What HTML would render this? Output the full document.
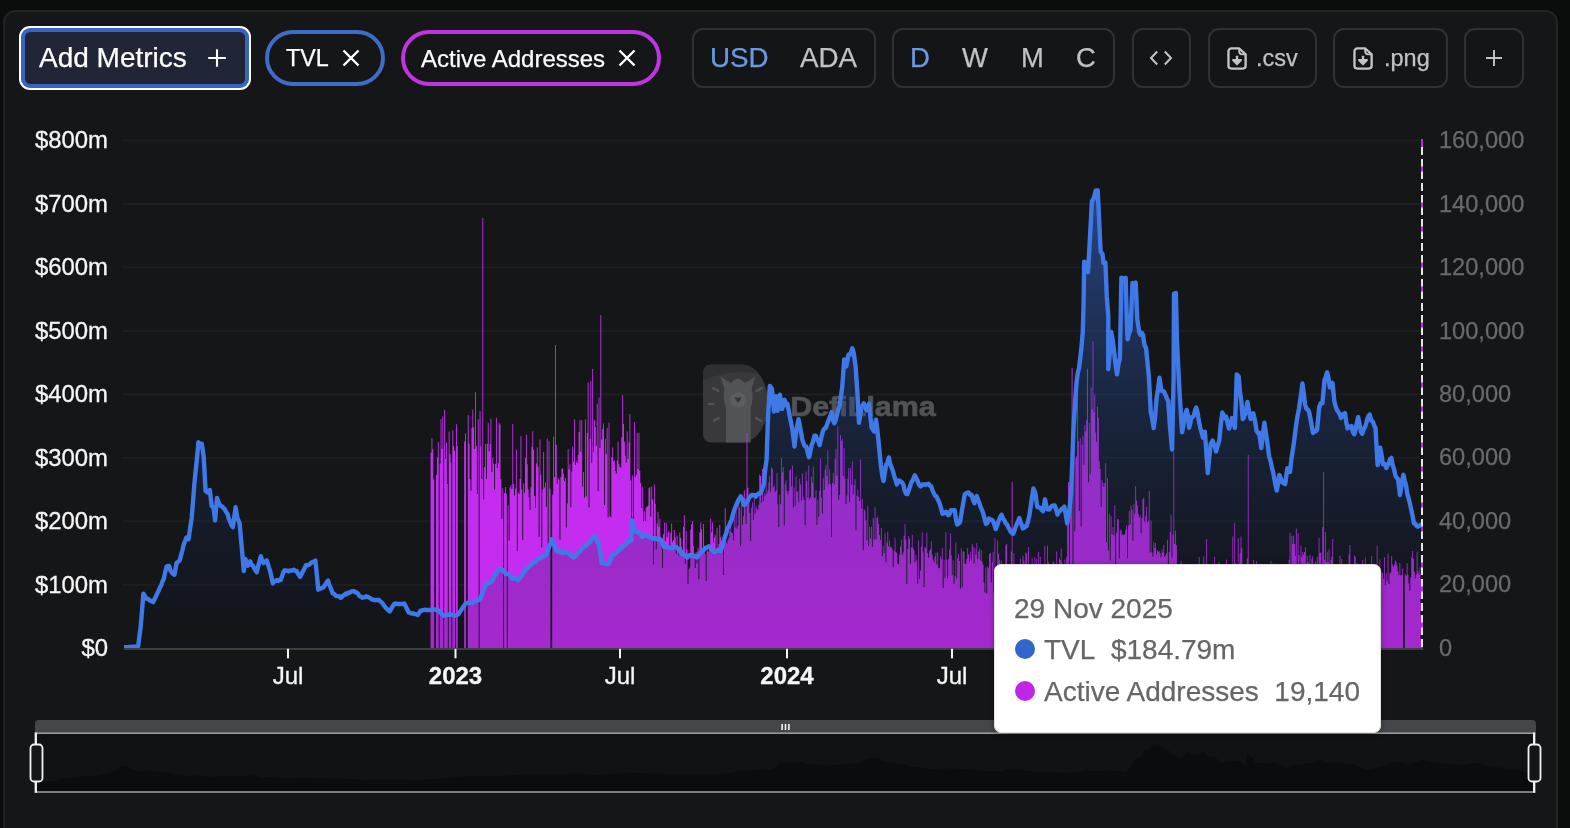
<!DOCTYPE html>
<html><head><meta charset="utf-8"><title>chart</title>
<style>
*{box-sizing:border-box;margin:0;padding:0}
html,body{width:1570px;height:828px;overflow:hidden;background:#0b0c0c;font-family:"Liberation Sans",sans-serif}
.card{position:absolute;left:3.3px;top:10px;width:1554.6px;height:900px;background:#151618;border:2px solid #222325;border-radius:12.5px}
.chart{position:absolute;left:0;top:0;will-change:transform}
.yl{font:23.9px "Liberation Sans",sans-serif;fill:#f6f6f6;stroke:#f6f6f6;stroke-width:.3px}
.yr{font:23.6px "Liberation Sans",sans-serif;fill:#696a6e;stroke:#696a6e;stroke-width:.25px}
.xl{font:24px "Liberation Sans",sans-serif;fill:#f6f6f6;stroke:#f6f6f6;stroke-width:.3px}
.xl.b{font-weight:700}
.abs{position:absolute;white-space:nowrap}
.btn{position:absolute;top:28px;height:59.5px;border:2px solid #303135;border-radius:11px;background:#141517}
.t{position:absolute;white-space:nowrap;line-height:1;color:#c2c2c4;will-change:transform;-webkit-text-stroke:.25px}
.pill{position:absolute;top:29.5px;height:56.5px;border-radius:29px;border:4px solid #3e6dc8}
.tip{position:absolute;left:994px;top:564px;width:386.5px;height:169px;background:#fff;border-radius:7px;box-shadow:0 1px 6px rgba(0,0,0,.35);border:1px solid #e2e2e2}
.tip .t{color:#666}
.dot{position:absolute;width:20px;height:20px;border-radius:50%}
</style></head><body>
<div class="card"></div>
<svg class="chart" width="1570" height="828" viewBox="0 0 1570 828">
<defs><linearGradient id="ga" x1="0" y1="190" x2="0" y2="648" gradientUnits="userSpaceOnUse"><stop offset="0" stop-color="#3b72e6" stop-opacity="0.52"/><stop offset="1" stop-color="#0a1020" stop-opacity="0.16"/></linearGradient>
<clipPath id="cp"><rect x="124" y="120" width="1299" height="529"/></clipPath></defs>
<rect x="122.5" y="139.40" width="1299" height="2" fill="#1d1e21"/>
<rect x="122.5" y="202.89" width="1299" height="2" fill="#1d1e21"/>
<rect x="122.5" y="266.38" width="1299" height="2" fill="#1d1e21"/>
<rect x="122.5" y="329.86" width="1299" height="2" fill="#1d1e21"/>
<rect x="122.5" y="393.35" width="1299" height="2" fill="#1d1e21"/>
<rect x="122.5" y="456.84" width="1299" height="2" fill="#1d1e21"/>
<rect x="122.5" y="520.32" width="1299" height="2" fill="#1d1e21"/>
<rect x="122.5" y="583.81" width="1299" height="2" fill="#1d1e21"/>
<g>
<path d="M711 364.5 H742 A26 39 0 0 1 768 403.5 A26 39 0 0 1 742 442.6 H711 A8 8 0 0 1 703 434.6 V372.5 A8 8 0 0 1 711 364.5Z" fill="#39393b"/>
<path d="M703 380 V372.5 A8 8 0 0 1 711 364.5 H742 Q752 366 758 374 Q735 368 703 380Z" fill="#2f3032"/>
<path d="M720.5 376.5 L730.8 382.9 Q734 379.2 738 378.6 Q742 379.2 745.2 382.9 L755.5 376.5 L751.5 389.2 Q753 393 752.6 396.4 Q752.6 403 750.7 407.5 L750.7 442.6 H726 L726 407.5 Q723.7 403 723.7 396.4 Q723.4 393 724.5 389.2 Z" fill="#525355"/>
<ellipse cx="738.1" cy="399.8" rx="8.2" ry="7.6" fill="#5c5d5f"/>
<path d="M734.4 397.4 l3.7 5.6 l3.7 -5.6z" fill="#343537"/>
<g stroke="#535456" stroke-width="2.2" stroke-linecap="round"><path d="M713 388l5.5 3M709 404h4.5M714 420.5l5-2.6M756.5 391l5.5-3.2M756 418l5.5 3.2"/></g>
<text x="790.3" y="415.8" font-family="Liberation Sans, sans-serif" font-weight="700" font-size="27.2" fill="#525356" stroke="#525356" stroke-width="0.7" textLength="145.5" lengthAdjust="spacingAndGlyphs">DefiLlama</text>
</g>
<g clip-path="url(#cp)"><path d="M430.52 648.3V452.7H431.48V437.9H432.39V449.3H433.30V479.4H434.21V648.3M435.96 648.3V474.9H436.93V457.6H437.84V442.2H438.75V648.3M439.60 648.3V463.4H440.56V418.9H441.47V448.9H442.38V416.5H443.29V648.3M444.14 648.3V409.7H445.10V458.7H446.01V442.4H446.92V484.1H447.83V648.3M448.68 648.3V431.4H449.64V454.0H450.55V462.6H451.46V648.3M452.31 648.3V430.2H453.28V445.9H454.18V450.4H455.09V648.3M455.94 648.3V424.3H456.91V446.1H457.82V648.3M464.11 648.3V441.5H465.08V433.4H465.99V648.3M467.74 648.3V414.9H468.71V443.8H469.62V479.0H470.53V490.8H471.44V427.8H472.34V409.8H473.25V427.5H474.16V449.1H475.07V392.3H475.98V446.1H476.88V494.0H477.79V419.3H478.70V648.3M479.55 648.3V411.3H480.52V446.5H481.42V478.9H482.33V218.0H483.24V499.6H484.15V467.1H485.06V443.8H485.96V478.7H486.87V443.8H487.78V423.0H488.69V451.4H489.60V444.1H490.50V418.4H491.41V471.9H492.32V457.8H493.23V463.7H494.14V489.6H495.04V463.8H495.95V417.8H496.86V467.9H497.77V463.2H498.68V422.7H499.58V424.6H500.49V479.2H501.40V519.1H502.31V488.2H503.22V648.3M504.06 648.3V492.9H505.03V486.9H505.94V493.4H506.85V648.3M507.70 648.3V505.4H508.66V540.5H509.57V487.6H510.48V484.9H511.39V488.9H512.30V424.1H513.20V484.0H514.11V495.4H515.02V488.4H515.93V449.7H516.84V551.2H517.74V491.7H518.65V494.1H519.56V479.1H520.47V435.9H521.38V489.6H522.28V540.0H523.19V483.5H524.10V492.8H525.01V458.1H525.92V434.5H526.82V464.2H527.73V489.2H528.64V497.4H529.55V510.0H530.46V487.2H531.36V446.7H532.27V431.2H533.18V449.7H534.09V496.0H535.00V507.8H535.90V463.5H536.81V447.5H537.72V466.4H538.63V537.1H539.54V439.5H540.44V474.6H541.35V547.4H542.26V489.2H543.17V452.0H544.08V487.5H544.98V482.5H545.89V506.8H546.80V438.5H547.71V547.0H548.62V441.2H549.52V488.6H550.43V648.3M552.19 648.3V494.4H553.16V436.5H554.06V477.0H554.97V345.0H555.88V445.1H556.79V483.8H557.70V477.9H558.60V479.4H559.51V539.7H560.42V476.9H561.33V468.9H562.24V467.9H563.14V473.6H564.05V481.3H564.96V477.9H565.87V527.5H566.78V503.6H567.68V449.1H568.59V469.5H569.50V464.3H570.41V507.2H571.32V471.5H572.22V446.4H573.13V461.8H574.04V419.3H574.95V464.8H575.86V460.8H576.76V462.9H577.67V455.1H578.58V431.9H579.49V419.9H580.40V451.7H581.30V420.2H582.21V486.4H583.12V471.9H584.03V497.8H584.94V419.3H585.84V496.5H586.75V433.1H587.66V382.4H588.57V507.5H589.48V438.7H590.38V381.3H591.29V463.0H592.20V369.0H593.11V451.8H594.02V419.8H594.92V427.0H595.83V445.8H596.74V403.7H597.65V491.0H598.56V397.6H599.46V447.9H600.37V315.0H601.28V439.5H602.19V428.9H603.10V423.6H604.00V505.0H604.91V438.8H605.82V454.3H606.73V427.8H607.64V517.4H608.54V422.7H609.45V516.0H610.36V517.3H611.27V457.0H612.18V447.2H613.08V461.6H613.99V460.2H614.90V471.1H615.81V473.6H616.72V460.5H617.62V441.7H618.53V463.7H619.44V466.9H620.35V467.5H621.26V437.2H622.16V395.0H623.07V423.9H623.98V441.6H624.89V455.8H625.80V462.5H626.70V431.5H627.61V459.1H628.52V442.2H629.43V414.0H630.34V480.6H631.24V519.6H632.15V475.4H633.06V528.3H633.97V422.0H634.88V477.1H635.78V474.7H636.69V433.0H637.60V468.9H638.51V432.7H639.42V471.1H640.32V483.1H641.23V508.1H642.14V487.1H643.05V521.2H643.96V510.9H644.86V521.1H645.77V507.5H646.68V506.7H647.59V505.5H648.50V488.3H649.40V487.0H650.31V516.7H651.22V486.5H652.13V499.5H653.04V564.6H653.94V484.4H654.85V504.1H655.76V549.8H656.67V523.6H657.58V511.8H658.48V527.1H659.39V518.8H660.30V538.1H661.21V548.5H662.12V567.8H663.02V534.2H663.93V522.4H664.84V541.1H665.75V522.7H666.66V537.3H667.56V532.7H668.47V530.9H669.38V550.1H670.29V532.7H671.20V523.5H672.10V542.1H673.01V539.9H673.92V529.9H674.83V537.3H675.74V553.4H676.64V535.6H677.55V548.7H678.46V555.4H679.37V532.6H680.28V537.9H681.18V546.4H682.09V549.7H683.00V526.8H683.91V515.3H684.82V563.7H685.72V531.1H686.63V549.7H687.54V583.7H688.45V569.3H689.36V567.5H690.26V529.8H691.17V524.0H692.08V521.1H692.99V546.0H693.90V554.1H694.80V568.1H695.71V552.1H696.62V563.6H697.53V547.8H698.44V579.2H699.34V532.4H700.25V522.7H701.16V529.3H702.07V551.7H702.98V524.0H703.88V550.9H704.79V554.0H705.70V581.0H706.61V545.6H707.52V551.3H708.42V551.7H709.33V544.6H710.24V518.6H711.15V532.3H712.06V522.3H712.96V542.5H713.87V537.3H714.78V534.7H715.69V550.7H716.60V527.8H717.50V547.6H718.41V543.9H719.32V525.0H720.23V536.8H721.14V544.8H722.04V550.2H722.95V574.9H723.86V543.2H724.77V508.2H725.68V541.8H726.58V543.4H727.49V540.1H728.40V537.7H729.31V531.4H730.22V524.6H731.12V532.4H732.03V532.9H732.94V540.6H733.85V512.0H734.76V527.4H735.66V508.8H736.57V528.4H737.48V525.8H738.39V496.8H739.30V507.8H740.20V546.0H741.11V499.2H742.02V524.7H742.93V516.2H743.84V490.2H744.74V498.2H745.65V524.1H746.56V433.0H747.47V487.7H748.38V500.7H749.28V513.0H750.19V541.2H751.10V507.9H752.01V502.5H752.92V520.0H753.82V495.5H754.73V513.7H755.64V506.4H756.55V508.8H757.46V509.9H758.36V504.8H759.27V474.5H760.18V476.0H761.09V502.7H762.00V468.9H762.90V501.1H763.81V493.3H764.72V495.4H765.63V475.1H766.54V493.8H767.44V490.2H768.35V482.5H769.26V475.7H770.17V492.2H771.08V467.4H771.98V468.7H772.89V487.2H773.80V485.4H774.71V492.3H775.62V490.2H776.52V473.0H777.43V504.2H778.34V527.1H779.25V494.7H780.16V504.2H781.06V458.1H781.97V472.4H782.88V467.1H783.79V525.4H784.70V484.6H785.60V480.2H786.51V491.0H787.42V494.0H788.33V490.8H789.24V470.4H790.14V469.0H791.05V486.6H791.96V465.4H792.87V507.3H793.78V487.4H794.68V505.7H795.59V476.6H796.50V492.1H797.41V491.2H798.32V502.2H799.22V478.8H800.13V484.2H801.04V500.5H801.95V473.2H802.86V496.4H803.76V500.0H804.67V524.9H805.58V471.6H806.49V480.7H807.40V497.7H808.30V465.5H809.21V499.3H810.12V497.0H811.03V476.8H811.94V482.8H812.84V466.6H813.75V497.9H814.66V497.4H815.57V490.3H816.48V524.9H817.38V499.7H818.29V516.7H819.20V490.8H820.11V458.4H821.02V497.4H821.92V513.8H822.83V477.7H823.74V490.1H824.65V470.0H825.56V464.9H826.46V476.2H827.37V450.3H828.28V484.2H829.19V469.6H830.10V484.3H831.00V536.7H831.91V483.1H832.82V473.0H833.73V484.5H834.64V458.9H835.54V448.7H836.45V475.5H837.36V426.2H838.27V499.8H839.18V494.7H840.08V435.0H840.99V440.8H841.90V438.5H842.81V476.0H843.72V447.9H844.62V478.4H845.53V504.1H846.44V495.5H847.35V478.6H848.26V467.9H849.16V501.9H850.07V468.2H850.98V484.8H851.89V461.2H852.80V493.9H853.70V485.0H854.61V479.2H855.52V530.3H856.43V495.8H857.34V489.4H858.24V496.9H859.15V501.1H860.06V459.2H860.97V508.3H861.88V498.8H862.78V550.1H863.69V508.9H864.60V510.8H865.51V520.3H866.42V540.2H867.32V506.3H868.23V546.1H869.14V526.8H870.05V538.5H870.96V526.5H871.86V546.8H872.77V518.1H873.68V539.5H874.59V507.2H875.50V539.5H876.40V518.1H877.31V516.4H878.22V524.0H879.13V535.3H880.04V539.9H880.94V527.9H881.85V556.2H882.76V545.8H883.67V553.2H884.58V533.2H885.48V562.3H886.39V542.4H887.30V531.5H888.21V546.6H889.12V540.6H890.02V547.1H890.93V546.9H891.84V548.8H892.75V567.2H893.66V551.0H894.56V537.7H895.47V552.1H896.38V553.0H897.29V563.6H898.20V564.3H899.10V554.5H900.01V546.7H900.92V539.5H901.83V554.9H902.74V552.6H903.64V535.7H904.55V524.1H905.46V539.7H906.37V583.9H907.28V548.9H908.18V535.9H909.09V539.0H910.00V563.8H910.91V547.4H911.82V534.8H912.72V547.8H913.63V550.0H914.54V562.2H915.45V554.8H916.36V560.5H917.26V584.0H918.17V540.5H919.08V578.8H919.99V570.5H920.90V546.5H921.80V532.2H922.71V551.5H923.62V587.1H924.53V546.7H925.44V548.2H926.34V532.5H927.25V553.0H928.16V557.7H929.07V551.0H929.98V548.9H930.88V541.2H931.79V554.4H932.70V559.6H933.61V562.2H934.52V556.6H935.42V553.1H936.33V564.4H937.24V552.3H938.15V568.0H939.06V568.2H939.96V556.2H940.87V559.2H941.78V548.1H942.69V588.0H943.60V560.0H944.50V577.7H945.41V532.0H946.32V559.5H947.23V578.3H948.14V559.1H949.04V549.4H949.95V533.2H950.86V555.2H951.77V575.3H952.68V560.6H953.58V583.8H954.49V576.3H955.40V542.4H956.31V578.4H957.22V558.2H958.12V553.7H959.03V561.1H959.94V588.6H960.85V548.3H961.76V587.2H962.66V551.3H963.57V551.6H964.48V563.4H965.39V564.1H966.30V558.8H967.20V548.0H968.11V554.3H969.02V561.6H969.93V551.8H970.84V560.3H971.74V544.1H972.65V547.0H973.56V563.8H974.47V548.1H975.38V554.8H976.28V543.3H977.19V559.3H978.10V551.4H979.01V548.5H979.92V560.2H980.82V550.1H981.73V561.4H982.64V564.6H983.55V582.6H984.46V592.6H985.36V567.6H986.27V593.5H987.18V566.6H988.09V568.2H989.00V553.8H989.90V552.8H990.81V582.6H991.72V562.3H992.63V551.8H993.54V592.5H994.44V538.2H995.35V572.8H996.26V569.7H997.17V540.6H998.08V553.5H998.98V559.4H999.89V571.4H1000.80V560.4H1001.71V567.0H1002.62V575.1H1003.52V564.9H1004.43V567.9H1005.34V545.6H1006.25V544.1H1007.16V579.5H1008.06V564.8H1008.97V565.3H1009.88V569.1H1010.79V551.5H1011.70V482.0H1012.60V574.4H1013.51V553.2H1014.42V582.3H1015.33V565.1H1016.24V582.5H1017.14V564.9H1018.05V564.2H1018.96V569.7H1019.87V558.6H1020.78V587.3H1021.68V592.4H1022.59V555.8H1023.50V560.4H1024.41V568.7H1025.32V552.6H1026.22V553.4H1027.13V576.9H1028.04V547.1H1028.95V565.3H1029.86V568.6H1030.76V566.4H1031.67V557.9H1032.58V569.8H1033.49V594.9H1034.40V557.2H1035.30V582.0H1036.21V559.1H1037.12V582.8H1038.03V551.7H1038.94V578.5H1039.84V556.7H1040.75V575.2H1041.66V570.4H1042.57V571.7H1043.48V571.6H1044.38V546.1H1045.29V599.2H1046.20V581.0H1047.11V545.6H1048.02V561.7H1048.92V588.5H1049.83V576.9H1050.74V573.2H1051.65V567.8H1052.56V561.4H1053.46V561.9H1054.37V587.6H1055.28V568.5H1056.19V551.4H1057.10V568.6H1058.00V572.3H1058.91V558.3H1059.82V560.1H1060.73V548.5H1061.64V562.4H1062.54V569.5H1063.45V582.8H1064.36V559.6H1065.27V564.2H1066.18V557.1H1067.08V516.6H1067.99V482.0H1068.90V573.5H1069.81V481.8H1070.72V487.1H1071.62V368.0H1072.53V565.9H1073.44V402.0H1074.35V531.4H1075.26V457.9H1076.16V456.1H1077.07V386.7H1077.98V441.3H1078.89V511.0H1079.80V438.3H1080.70V526.3H1081.61V444.8H1082.52V435.8H1083.43V464.7H1084.34V425.4H1085.24V431.3H1086.15V419.9H1087.06V368.7H1087.97V482.2H1088.88V422.8H1089.78V474.6H1090.69V387.5H1091.60V409.4H1092.51V341.0H1093.42V412.3H1094.32V394.6H1095.23V432.4H1096.14V442.1H1097.05V406.8H1097.96V418.0H1098.86V461.3H1099.77V468.9H1100.68V507.1H1101.59V479.7H1102.50V482.7H1103.40V486.7H1104.31V483.0H1105.22V463.0H1106.13V542.0H1107.04V477.9H1107.94V550.7H1108.85V513.7H1109.76V560.5H1110.67V516.1H1111.58V534.2H1112.48V526.9H1113.39V535.2H1114.30V505.6H1115.21V568.3H1116.12V532.4H1117.02V519.1H1117.93V519.3H1118.84V558.5H1119.75V530.9H1120.66V529.2H1121.56V534.2H1122.47V534.8H1123.38V535.1H1124.29V533.9H1125.20V529.8H1126.10V525.5H1127.01V557.7H1127.92V525.6H1128.83V510.8H1129.74V524.4H1130.64V505.6H1131.55V509.8H1132.46V540.7H1133.37V504.2H1134.28V513.8H1135.18V486.0H1136.09V500.5H1137.00V505.6H1137.91V514.1H1138.82V517.6H1139.72V515.6H1140.63V532.9H1141.54V518.2H1142.45V499.0H1143.36V497.6H1144.26V521.7H1145.17V516.3H1146.08V507.1H1146.99V522.6H1147.90V520.7H1148.80V491.0H1149.71V552.5H1150.62V520.4H1151.53V552.3H1152.44V556.8H1153.34V542.3H1154.25V548.1H1155.16V543.0H1156.07V554.2H1156.98V549.9H1157.88V552.1H1158.79V551.1H1159.70V553.1H1160.61V557.5H1161.52V549.6H1162.42V552.5H1163.33V545.1H1164.24V557.1H1165.15V555.3H1166.06V553.1H1166.96V539.8H1167.87V564.6H1168.78V552.1H1169.69V532.1H1170.60V514.4H1171.50V557.5H1172.41V534.5H1173.32V452.0H1174.23V543.9H1175.14V530.4H1176.04V545.2H1176.95V572.2H1177.86V587.5H1178.77V584.8H1179.68V563.7H1180.58V561.0H1181.49V568.4H1182.40V588.0H1183.31V564.6H1184.22V569.8H1185.12V565.6H1186.03V570.8H1186.94V570.7H1187.85V570.5H1188.76V586.0H1189.66V570.1H1190.57V572.0H1191.48V591.0H1192.39V575.4H1193.30V572.9H1194.20V572.5H1195.11V590.0H1196.02V572.7H1196.93V568.1H1197.84V572.1H1198.74V556.9H1199.65V574.7H1200.56V594.8H1201.47V565.3H1202.38V573.3H1203.28V556.5H1204.19V574.9H1205.10V572.0H1206.01V539.0H1206.92V572.0H1207.82V569.5H1208.73V580.2H1209.64V573.8H1210.55V565.2H1211.46V592.6H1212.36V565.4H1213.27V575.6H1214.18V556.8H1215.09V565.1H1216.00V576.8H1216.90V573.1H1217.81V591.3H1218.72V562.3H1219.63V573.8H1220.54V576.4H1221.44V573.5H1222.35V568.8H1223.26V593.3H1224.17V570.6H1225.08V572.9H1225.98V559.6H1226.89V574.7H1227.80V580.0H1228.71V590.9H1229.62V569.0H1230.52V566.7H1231.43V569.3H1232.34V536.5H1233.25V586.6H1234.16V523.0H1235.06V562.8H1235.97V565.8H1236.88V599.0H1237.79V538.0H1238.70V563.8H1239.60V553.2H1240.51V536.5H1241.42V548.3H1242.33V566.9H1243.24V571.4H1244.14V570.4H1245.05V565.4H1245.96V566.5H1246.87V558.4H1247.78V455.0H1248.68V597.3H1249.59V574.9H1250.50V567.1H1251.41V572.9H1252.32V580.2H1253.22V560.1H1254.13V580.9H1255.04V579.3H1255.95V560.9H1256.86V568.6H1257.76V571.1H1258.67V569.2H1259.58V582.8H1260.49V569.5H1261.40V574.1H1262.30V577.5H1263.21V585.8H1264.12V580.7H1265.03V580.5H1265.94V580.7H1266.84V576.3H1267.75V575.0H1268.66V599.2H1269.57V576.7H1270.48V561.0H1271.38V588.5H1272.29V599.4H1273.20V563.4H1274.11V579.9H1275.02V564.8H1275.92V575.5H1276.83V581.5H1277.74V572.6H1278.65V598.3H1279.56V579.7H1280.46V585.5H1281.37V566.2H1282.28V589.8H1283.19V577.2H1284.10V601.4H1285.00V598.3H1285.91V569.4H1286.82V571.9H1287.73V568.9H1288.64V559.8H1289.54V532.8H1290.45V566.2H1291.36V535.8H1292.27V544.1H1293.18V535.6H1294.08V543.7H1294.99V556.0H1295.90V528.4H1296.81V566.5H1297.72V533.3H1298.62V554.9H1299.53V577.7H1300.44V545.9H1301.35V557.3H1302.26V552.1H1303.16V554.4H1304.07V552.1H1304.98V547.3H1305.89V563.3H1306.80V555.7H1307.70V561.8H1308.61V563.0H1309.52V554.9H1310.43V575.5H1311.34V559.1H1312.24V556.6H1313.15V588.7H1314.06V566.9H1314.97V561.3H1315.88V577.8H1316.78V557.0H1317.69V584.6H1318.60V537.9H1319.51V552.9H1320.42V552.5H1321.32V591.8H1322.23V527.1H1323.14V472.0H1324.05V559.8H1324.96V532.0H1325.86V562.0H1326.77V551.8H1327.68V562.0H1328.59V549.5H1329.50V580.7H1330.40V560.0H1331.31V556.7H1332.22V539.1H1333.13V570.7H1334.04V566.9H1334.94V571.0H1335.85V572.4H1336.76V570.0H1337.67V585.2H1338.58V569.9H1339.48V555.4H1340.39V574.0H1341.30V559.0H1342.21V571.4H1343.12V568.6H1344.02V574.6H1344.93V571.2H1345.84V564.3H1346.75V564.8H1347.66V585.1H1348.56V554.5H1349.47V545.0H1350.38V568.4H1351.29V576.3H1352.20V573.9H1353.10V578.4H1354.01V555.6H1354.92V556.9H1355.83V564.2H1356.74V562.9H1357.64V569.1H1358.55V569.0H1359.46V571.7H1360.37V569.2H1361.28V574.6H1362.18V560.0H1363.09V573.4H1364.00V588.7H1364.91V557.4H1365.82V574.5H1366.72V576.5H1367.63V579.1H1368.54V575.0H1369.45V576.0H1370.36V588.2H1371.26V555.9H1372.17V573.6H1373.08V593.0H1373.99V574.3H1374.90V574.8H1375.80V576.3H1376.71V546.0H1377.62V574.1H1378.53V584.3H1379.44V559.6H1380.34V574.8H1381.25V571.6H1382.16V573.0H1383.07V578.7H1383.98V557.1H1384.88V585.3H1385.79V573.2H1386.70V581.6H1387.61V553.4H1388.52V584.1H1389.42V573.5H1390.33V572.4H1391.24V555.9H1392.15V564.4H1393.06V566.9H1393.96V564.7H1394.87V560.4H1395.78V561.9H1396.69V565.8H1397.60V571.5H1398.50V575.2H1399.41V563.0H1400.32V575.4H1401.23V574.9H1402.14V568.5H1403.04V648.3M1404.80 648.3V574.2H1405.77V575.8H1406.68V563.1H1407.58V575.0H1408.49V583.5H1409.40V590.7H1410.31V577.4H1411.22V557.5H1412.12V551.1H1413.03V558.9H1413.94V571.7H1414.85V578.5H1415.76V574.6H1416.66V551.7H1417.57V571.1H1418.48V574.4H1419.39V567.2H1420.30V573.8H1421.20V571.4H1422.11V648.3" fill="#c42df0" stroke="none"/>
<path d="M1422 648.3 V139" stroke="#c42df0" stroke-width="1.2"/>
<path d="M124.0 647.3 L125.2 647.2 L126.3 647.2 L127.5 647.1 L128.7 647.0 L129.9 647.0 L131.1 646.9 L132.2 646.8 L133.4 646.8 L134.6 646.7 L135.8 646.6 L136.9 646.6 L138.1 646.5 L139.4 636.5 L140.7 626.6 L142.1 609.9 L143.4 593.6 L145.0 596.3 L146.6 598.7 L147.9 599.0 L149.2 600.0 L150.6 600.8 L151.9 601.4 L153.2 602.2 L154.5 599.3 L155.9 596.6 L157.2 593.5 L158.5 591.0 L159.9 587.5 L161.2 585.4 L162.5 581.5 L163.8 578.7 L165.2 572.0 L166.5 566.7 L167.8 565.9 L169.2 566.0 L170.5 570.7 L171.8 572.2 L173.2 574.1 L174.5 574.7 L176.6 562.8 L178.2 561.8 L179.8 560.2 L181.1 555.1 L182.5 549.7 L183.8 544.1 L185.1 541.1 L186.4 537.5 L188.6 539.2 L190.1 528.3 L191.7 517.8 L193.1 500.6 L194.4 483.4 L195.8 469.5 L197.1 456.9 L198.4 442.1 L200.2 446.3 L201.8 443.7 L203.7 456.8 L205.6 491.0 L207.7 492.5 L209.8 490.0 L211.7 506.1 L213.5 507.2 L215.1 520.4 L217.0 498.0 L218.3 501.6 L219.6 504.5 L220.9 506.0 L222.3 506.6 L223.6 508.1 L224.9 509.4 L226.3 512.2 L227.6 514.1 L228.9 519.0 L230.3 522.0 L231.6 525.4 L232.9 527.2 L234.2 517.5 L235.6 507.3 L237.4 518.2 L239.6 523.1 L241.7 546.8 L243.8 571.0 L245.4 559.0 L247.5 565.7 L248.8 564.2 L250.2 561.4 L251.6 564.7 L252.9 565.8 L254.2 568.3 L255.5 570.5 L256.8 572.2 L258.1 566.4 L259.5 561.3 L260.8 556.2 L262.1 560.2 L263.5 563.1 L265.1 561.8 L266.7 560.4 L267.8 563.6 L269.0 567.6 L270.1 571.0 L271.5 577.3 L272.8 583.4 L274.1 581.8 L275.5 581.1 L276.8 580.1 L278.1 580.9 L279.4 579.9 L280.7 580.1 L282.0 576.4 L283.4 572.1 L284.7 570.3 L286.1 570.9 L287.4 570.6 L288.7 571.4 L290.1 570.5 L291.4 570.7 L292.7 570.2 L294.0 569.8 L295.4 570.9 L296.7 570.9 L297.8 573.6 L299.0 575.0 L300.1 576.9 L301.7 573.8 L303.3 570.7 L304.6 568.2 L306.0 565.2 L307.3 565.4 L308.7 564.9 L310.0 564.0 L311.1 562.8 L312.2 562.3 L313.4 561.7 L314.5 561.5 L315.4 560.7 L317.2 578.0 L318.2 589.7 L319.6 588.9 L320.9 588.4 L322.2 587.9 L323.6 587.1 L324.7 585.3 L325.9 583.7 L327.0 581.6 L328.1 580.7 L329.2 584.6 L330.4 587.2 L331.5 590.0 L332.6 593.2 L333.8 593.8 L334.9 594.6 L336.1 596.0 L337.3 596.2 L338.5 596.4 L339.6 596.3 L340.8 597.8 L342.0 597.0 L343.2 595.5 L344.4 595.0 L345.6 593.6 L346.8 594.3 L348.0 592.6 L349.3 592.7 L350.6 592.1 L351.8 591.1 L353.1 591.4 L354.4 591.3 L355.6 592.4 L356.7 592.5 L357.9 593.6 L359.0 595.3 L360.2 596.6 L361.3 596.7 L362.5 597.7 L363.7 597.4 L365.0 597.2 L366.2 596.3 L367.6 596.8 L368.9 597.5 L370.2 598.1 L371.6 599.2 L372.8 599.7 L374.0 599.8 L375.2 600.4 L376.4 600.0 L377.6 599.9 L378.8 599.9 L380.0 601.1 L381.2 602.1 L382.4 603.1 L383.6 605.0 L384.9 606.7 L386.1 608.0 L387.3 609.3 L388.5 610.4 L389.7 611.4 L390.8 609.6 L391.9 607.7 L393.1 605.7 L394.2 604.0 L395.3 603.5 L396.4 603.8 L397.5 604.0 L398.6 603.8 L399.8 604.2 L400.9 604.0 L402.0 604.0 L403.1 604.1 L404.2 603.6 L405.3 605.2 L406.4 607.9 L407.6 610.0 L408.7 612.4 L409.8 612.8 L411.0 613.3 L412.1 613.6 L413.2 613.3 L414.4 614.0 L415.5 614.2 L416.7 614.4 L417.8 615.0 L419.1 612.9 L420.5 610.6 L421.6 610.8 L422.8 610.1 L423.9 610.1 L425.1 609.6 L426.2 609.9 L427.3 610.2 L428.5 609.9 L429.6 610.0 L430.8 610.0 L431.9 610.2 L433.1 609.7 L434.2 609.5 L435.4 609.4 L436.5 610.0 L437.7 609.7 L438.9 611.0 L440.1 612.2 L441.3 613.4 L442.5 614.7 L443.7 615.9 L444.9 615.5 L446.2 614.9 L447.4 614.6 L448.7 614.7 L449.9 614.2 L451.1 614.6 L452.4 615.0 L453.6 615.5 L454.9 615.9 L456.1 615.2 L457.4 614.7 L458.6 614.1 L459.8 612.1 L461.0 610.3 L462.2 608.4 L463.4 606.5 L464.6 605.2 L465.8 603.1 L467.1 602.9 L468.5 602.8 L469.9 602.7 L471.2 602.9 L472.3 602.8 L473.5 602.1 L474.6 601.6 L475.8 600.9 L476.9 600.5 L478.0 600.4 L479.2 599.7 L480.3 599.2 L481.6 595.5 L482.8 592.3 L484.1 589.0 L485.3 586.7 L486.6 583.4 L487.7 582.9 L488.8 583.2 L489.9 582.2 L491.0 582.2 L492.1 581.6 L493.4 578.6 L494.6 575.9 L495.9 573.7 L497.1 572.2 L498.4 569.9 L499.6 569.2 L500.8 569.8 L502.0 569.2 L503.2 570.5 L504.5 572.0 L505.7 573.8 L506.8 573.5 L507.9 574.2 L509.1 574.7 L510.2 576.1 L511.3 577.7 L512.4 578.9 L513.5 578.2 L514.6 577.8 L515.8 578.6 L516.9 579.0 L518.0 580.3 L519.2 579.1 L520.3 577.0 L521.5 576.0 L522.6 574.5 L523.8 572.0 L525.0 570.7 L526.1 569.4 L527.3 568.2 L528.5 567.2 L529.6 566.0 L530.8 565.2 L532.0 563.9 L533.1 562.6 L534.3 562.8 L535.4 561.6 L536.6 560.3 L537.8 558.8 L538.9 558.5 L540.1 558.6 L541.2 556.9 L542.4 557.3 L543.6 556.1 L544.7 555.8 L545.9 554.9 L547.1 551.8 L548.3 549.3 L549.6 545.3 L550.8 543.2 L552.0 538.9 L553.1 541.2 L554.2 545.1 L555.4 547.3 L556.5 550.8 L557.7 551.5 L558.8 552.1 L560.0 550.6 L561.1 551.6 L562.3 552.9 L563.5 553.0 L564.6 552.3 L565.8 552.1 L566.9 552.7 L568.1 552.9 L569.2 554.0 L570.4 555.0 L571.5 555.8 L572.7 557.4 L573.8 557.5 L575.0 555.5 L576.2 555.5 L577.3 553.4 L578.5 552.3 L579.7 551.4 L580.9 550.1 L582.0 548.5 L583.2 547.7 L584.4 547.2 L585.6 545.8 L586.8 544.5 L587.9 544.1 L589.1 543.0 L590.3 541.8 L591.5 540.7 L592.6 537.6 L593.8 536.5 L595.0 536.2 L596.3 539.2 L597.7 542.6 L599.0 544.5 L600.4 553.7 L601.7 562.9 L603.0 563.1 L604.3 563.5 L605.7 564.1 L607.0 563.9 L608.3 564.1 L608.6 564.0 L609.7 561.5 L610.9 558.9 L612.0 555.1 L613.1 555.1 L614.2 554.4 L615.3 553.2 L616.4 552.7 L617.5 551.1 L618.6 550.8 L619.7 549.2 L620.9 548.9 L622.0 547.2 L623.2 546.2 L624.3 545.4 L625.5 545.0 L626.6 542.9 L627.8 541.5 L629.0 541.9 L630.2 540.3 L631.4 540.3 L631.9 520.2 L634.0 530.9 L635.2 530.1 L636.4 532.1 L637.5 532.2 L638.7 532.3 L639.9 533.9 L641.0 534.8 L642.2 536.9 L643.3 535.5 L644.4 534.6 L645.5 534.8 L646.7 536.0 L647.8 535.1 L649.1 536.4 L650.5 537.5 L651.8 537.5 L653.1 538.9 L654.2 538.5 L655.3 537.9 L656.5 539.2 L657.6 539.5 L658.7 539.2 L659.8 538.8 L661.1 540.0 L662.5 544.0 L663.8 546.9 L664.9 546.0 L666.0 546.9 L667.1 546.4 L668.2 547.3 L669.3 547.9 L670.4 548.3 L671.7 548.1 L673.0 547.7 L674.4 546.5 L675.7 546.8 L677.0 547.7 L678.4 549.2 L679.7 550.9 L680.8 552.3 L681.9 554.1 L683.0 552.8 L684.2 554.8 L685.3 555.8 L686.4 557.3 L687.7 557.5 L689.0 555.3 L690.4 555.4 L691.7 554.8 L693.0 556.0 L694.4 555.7 L695.7 556.6 L697.0 557.5 L698.1 556.1 L699.3 554.4 L700.4 552.2 L701.6 552.0 L702.7 551.4 L703.9 549.7 L705.0 548.0 L706.3 547.5 L707.6 547.3 L708.9 546.4 L710.2 547.8 L711.6 550.2 L712.9 550.4 L714.3 552.1 L715.4 550.6 L716.5 550.9 L717.6 550.8 L718.7 550.5 L719.8 550.4 L720.9 551.1 L722.2 546.2 L723.6 541.1 L724.9 536.7 L726.2 533.5 L727.5 528.5 L728.9 526.2 L730.2 522.8 L731.5 520.1 L732.9 514.4 L734.2 510.3 L735.5 506.7 L736.8 503.9 L738.1 500.6 L739.5 498.6 L740.8 496.3 L742.4 499.8 L744.0 504.9 L745.3 504.5 L746.7 502.5 L748.0 500.5 L749.3 497.2 L750.7 496.1 L752.0 494.7 L753.3 495.4 L754.6 495.2 L755.9 496.6 L757.2 494.5 L758.6 493.5 L759.9 493.9 L761.2 491.8 L762.6 487.5 L763.9 483.4 L765.2 469.6 L766.6 459.5 L767.9 419.7 L769.8 386.0 L771.9 388.6 L774.0 411.5 L775.9 396.1 L777.7 410.8 L779.9 394.7 L782.0 409.0 L783.3 404.9 L784.6 399.8 L786.0 405.3 L787.3 403.7 L788.6 409.7 L790.0 417.5 L791.3 423.9 L792.6 430.8 L794.5 446.5 L796.3 430.4 L797.4 424.6 L798.5 419.2 L800.6 429.8 L802.2 439.2 L803.8 444.0 L805.1 446.3 L806.4 446.7 L807.8 452.9 L809.1 457.3 L810.4 451.2 L811.7 444.9 L813.0 441.6 L814.4 435.7 L815.8 435.8 L817.1 439.4 L818.4 441.2 L819.7 445.1 L821.3 437.5 L822.9 431.3 L824.2 428.6 L825.6 428.2 L826.9 424.9 L828.2 421.1 L829.4 418.1 L830.5 415.3 L831.7 412.1 L833.0 420.4 L834.3 423.3 L835.6 420.6 L837.0 414.5 L838.3 409.4 L839.6 406.0 L841.0 396.2 L842.3 386.1 L844.2 359.4 L846.3 366.4 L848.4 354.8 L849.8 354.9 L851.1 352.1 L852.4 348.3 L853.7 352.8 L855.6 366.3 L857.4 392.5 L859.0 422.9 L860.1 416.0 L861.2 409.0 L862.5 405.8 L863.8 403.4 L865.1 405.4 L866.5 410.3 L867.8 407.4 L869.1 403.6 L870.3 415.4 L871.5 427.2 L872.9 429.7 L874.2 431.4 L876.0 419.7 L877.1 427.7 L878.2 438.0 L879.5 451.5 L880.8 464.5 L882.1 475.1 L883.5 481.0 L884.8 473.0 L886.1 464.7 L887.5 462.6 L888.8 457.5 L890.1 463.4 L891.4 467.2 L892.8 470.5 L894.1 475.6 L895.5 479.7 L896.8 484.4 L898.1 481.0 L899.4 480.4 L900.7 481.6 L902.1 482.6 L903.4 484.7 L904.7 490.7 L906.1 493.8 L907.4 494.1 L908.7 490.4 L910.1 486.3 L911.4 482.1 L912.5 481.0 L913.7 477.7 L914.8 475.4 L916.1 477.6 L917.5 480.7 L919.1 484.7 L920.7 486.4 L922.0 484.7 L923.4 484.4 L924.7 484.5 L926.0 484.8 L927.3 484.3 L928.6 483.8 L930.0 485.8 L931.3 486.4 L932.6 490.6 L933.9 493.4 L935.1 495.9 L936.3 496.2 L937.5 499.0 L938.7 501.0 L940.0 504.5 L941.3 509.5 L942.6 513.8 L943.8 513.3 L944.9 512.5 L946.1 511.8 L947.2 513.4 L948.4 515.2 L949.7 513.8 L950.9 510.3 L952.2 510.4 L953.5 510.2 L954.7 510.3 L955.9 518.6 L957.1 524.5 L958.5 523.8 L960.0 522.2 L961.5 513.1 L962.9 504.9 L964.8 494.2 L966.1 493.5 L967.3 492.6 L968.6 492.5 L970.0 495.0 L971.5 494.7 L973.0 499.6 L974.4 503.1 L975.6 498.3 L976.8 496.1 L978.0 500.0 L979.3 502.9 L980.6 507.2 L981.8 509.6 L983.1 512.9 L984.5 518.4 L986.0 524.0 L987.5 522.8 L988.9 518.5 L990.2 519.8 L991.5 519.6 L992.8 520.5 L994.2 524.3 L995.7 529.1 L997.2 525.4 L998.6 521.0 L1000.0 517.5 L1001.5 514.7 L1003.0 518.4 L1004.4 520.4 L1005.7 523.2 L1007.0 524.5 L1008.3 527.3 L1009.5 529.3 L1010.7 531.7 L1011.9 533.0 L1013.1 533.8 L1014.5 530.4 L1016.0 526.1 L1017.6 522.3 L1019.3 518.0 L1020.5 522.1 L1021.6 524.6 L1022.8 528.4 L1024.1 528.0 L1025.3 526.1 L1026.6 526.2 L1028.0 521.5 L1029.5 514.7 L1031.4 501.2 L1033.4 488.5 L1035.3 492.9 L1037.2 506.7 L1038.7 507.4 L1040.1 507.9 L1041.5 509.8 L1043.0 511.3 L1045.0 499.3 L1046.9 509.1 L1048.2 509.5 L1049.5 509.3 L1050.8 507.0 L1052.1 505.8 L1053.3 505.8 L1054.6 505.4 L1056.0 508.9 L1057.5 514.6 L1058.8 511.9 L1060.1 511.0 L1061.4 509.3 L1062.8 508.2 L1064.3 506.7 L1065.8 514.9 L1067.2 523.3 L1069.1 512.4 L1071.1 493.5 L1072.3 460.3 L1073.5 428.4 L1075.0 404.2 L1076.4 384.1 L1077.7 373.3 L1079.0 368.2 L1080.3 357.9 L1081.5 346.8 L1082.8 331.6 L1083.6 302.8 L1084.2 261.6 L1086.1 263.2 L1088.0 272.2 L1090.0 237.5 L1091.9 201.3 L1093.8 198.3 L1095.7 190.4 L1097.7 190.4 L1098.6 208.9 L1100.6 251.7 L1102.5 254.1 L1103.5 262.9 L1105.4 262.7 L1106.8 296.9 L1108.3 315.8 L1108.3 369.0 L1109.8 352.7 L1111.2 331.9 L1112.7 340.4 L1114.1 351.3 L1115.5 364.4 L1117.0 374.4 L1118.5 363.8 L1119.9 358.6 L1121.4 277.6 L1122.8 278.3 L1124.3 279.4 L1125.7 277.8 L1126.7 316.2 L1127.6 339.3 L1129.0 333.7 L1130.5 329.8 L1132.5 282.9 L1134.1 284.4 L1135.7 282.5 L1137.3 319.2 L1139.2 332.2 L1140.5 334.8 L1141.8 332.7 L1143.1 335.3 L1144.5 345.2 L1146.0 347.8 L1147.5 362.7 L1148.9 377.0 L1150.8 412.2 L1152.2 418.6 L1153.7 428.1 L1155.2 416.1 L1156.6 397.9 L1158.0 389.0 L1159.5 377.7 L1161.4 390.9 L1162.7 391.0 L1164.0 391.6 L1165.3 394.5 L1166.8 398.2 L1168.2 401.0 L1170.1 428.5 L1172.1 449.6 L1173.6 377.5 L1174.0 293.6 L1175.9 293.0 L1176.9 338.6 L1178.3 368.2 L1179.5 391.2 L1180.8 412.7 L1182.1 432.3 L1183.3 425.9 L1184.6 416.4 L1186.6 409.9 L1187.8 414.7 L1189.1 427.7 L1190.2 423.6 L1191.4 417.1 L1192.6 417.0 L1193.8 415.6 L1195.0 410.8 L1196.2 407.5 L1197.7 413.1 L1199.1 422.5 L1200.4 428.3 L1201.7 432.9 L1203.0 437.8 L1204.9 431.7 L1206.3 452.0 L1207.8 473.0 L1209.2 458.2 L1210.7 443.9 L1212.7 440.6 L1213.8 444.4 L1215.0 446.6 L1216.1 451.4 L1217.2 447.3 L1218.3 444.0 L1219.4 439.6 L1220.8 424.4 L1222.3 412.5 L1223.6 415.2 L1224.9 418.1 L1226.2 416.7 L1227.7 423.7 L1229.1 428.6 L1230.5 424.5 L1232.0 418.1 L1233.5 423.2 L1234.9 427.8 L1236.8 374.5 L1238.7 376.5 L1240.0 392.1 L1241.4 401.3 L1242.7 419.0 L1244.0 417.4 L1245.3 413.4 L1247.4 402.0 L1249.0 410.9 L1250.6 419.1 L1251.9 415.3 L1253.3 413.3 L1254.9 420.4 L1256.5 430.7 L1257.8 432.7 L1259.1 432.6 L1260.2 439.8 L1261.3 448.0 L1262.8 434.6 L1264.4 422.7 L1266.6 437.9 L1267.9 446.9 L1269.2 456.6 L1270.5 460.6 L1271.9 467.6 L1273.2 472.3 L1274.4 479.2 L1275.5 484.8 L1276.7 490.6 L1278.0 483.9 L1279.3 474.9 L1280.9 478.7 L1282.5 482.6 L1283.8 483.4 L1285.2 484.1 L1287.3 468.2 L1288.7 470.7 L1290.0 472.0 L1291.5 458.3 L1293.1 448.3 L1294.4 438.9 L1295.8 427.5 L1297.4 416.6 L1299.0 408.6 L1300.1 400.9 L1301.3 392.4 L1302.4 383.5 L1303.8 393.7 L1305.1 404.6 L1306.4 408.7 L1307.8 409.5 L1309.1 411.8 L1310.4 418.5 L1311.8 426.5 L1313.1 433.1 L1314.4 430.5 L1315.8 431.2 L1317.1 429.7 L1319.2 407.1 L1320.8 403.1 L1322.4 403.3 L1324.5 380.0 L1325.8 376.7 L1327.1 372.3 L1328.4 377.5 L1329.8 387.4 L1331.2 385.6 L1332.5 382.9 L1334.3 400.9 L1335.6 406.2 L1337.0 410.0 L1338.3 411.9 L1339.7 414.2 L1341.0 418.0 L1342.3 414.4 L1343.7 415.0 L1345.0 413.0 L1346.3 422.8 L1347.6 428.4 L1348.9 426.4 L1350.3 427.6 L1351.6 426.1 L1352.9 432.1 L1354.3 434.3 L1355.6 429.1 L1356.9 422.8 L1358.2 417.1 L1359.5 423.2 L1360.9 431.7 L1362.2 433.8 L1363.5 429.7 L1364.9 427.4 L1366.2 423.3 L1367.4 418.7 L1368.5 416.1 L1369.7 414.5 L1371.3 420.6 L1372.9 421.6 L1374.2 425.5 L1375.5 427.9 L1377.6 465.1 L1378.9 458.6 L1380.3 447.8 L1381.6 455.2 L1382.9 464.2 L1384.1 463.6 L1385.2 464.2 L1386.3 468.1 L1387.5 465.4 L1388.8 463.3 L1390.1 458.9 L1391.4 457.9 L1392.7 465.3 L1394.1 469.2 L1395.4 475.5 L1396.8 477.8 L1398.1 479.3 L1400.0 495.0 L1401.1 487.9 L1402.3 481.0 L1403.4 474.8 L1404.8 480.8 L1406.1 485.6 L1407.4 494.2 L1408.7 498.6 L1410.0 504.1 L1411.3 510.0 L1412.7 516.5 L1414.0 523.6 L1415.3 523.6 L1416.7 526.1 L1418.0 526.7 L1419.3 525.8 L1420.7 524.9 L1422.0 524.0 L1422.0 648.3 L124.0 648.3 Z" fill="url(#ga)"/>
<path d="M124.0 647.3 L125.2 647.2 L126.3 647.2 L127.5 647.1 L128.7 647.0 L129.9 647.0 L131.1 646.9 L132.2 646.8 L133.4 646.8 L134.6 646.7 L135.8 646.6 L136.9 646.6 L138.1 646.5 L139.4 636.5 L140.7 626.6 L142.1 609.9 L143.4 593.6 L145.0 596.3 L146.6 598.7 L147.9 599.0 L149.2 600.0 L150.6 600.8 L151.9 601.4 L153.2 602.2 L154.5 599.3 L155.9 596.6 L157.2 593.5 L158.5 591.0 L159.9 587.5 L161.2 585.4 L162.5 581.5 L163.8 578.7 L165.2 572.0 L166.5 566.7 L167.8 565.9 L169.2 566.0 L170.5 570.7 L171.8 572.2 L173.2 574.1 L174.5 574.7 L176.6 562.8 L178.2 561.8 L179.8 560.2 L181.1 555.1 L182.5 549.7 L183.8 544.1 L185.1 541.1 L186.4 537.5 L188.6 539.2 L190.1 528.3 L191.7 517.8 L193.1 500.6 L194.4 483.4 L195.8 469.5 L197.1 456.9 L198.4 442.1 L200.2 446.3 L201.8 443.7 L203.7 456.8 L205.6 491.0 L207.7 492.5 L209.8 490.0 L211.7 506.1 L213.5 507.2 L215.1 520.4 L217.0 498.0 L218.3 501.6 L219.6 504.5 L220.9 506.0 L222.3 506.6 L223.6 508.1 L224.9 509.4 L226.3 512.2 L227.6 514.1 L228.9 519.0 L230.3 522.0 L231.6 525.4 L232.9 527.2 L234.2 517.5 L235.6 507.3 L237.4 518.2 L239.6 523.1 L241.7 546.8 L243.8 571.0 L245.4 559.0 L247.5 565.7 L248.8 564.2 L250.2 561.4 L251.6 564.7 L252.9 565.8 L254.2 568.3 L255.5 570.5 L256.8 572.2 L258.1 566.4 L259.5 561.3 L260.8 556.2 L262.1 560.2 L263.5 563.1 L265.1 561.8 L266.7 560.4 L267.8 563.6 L269.0 567.6 L270.1 571.0 L271.5 577.3 L272.8 583.4 L274.1 581.8 L275.5 581.1 L276.8 580.1 L278.1 580.9 L279.4 579.9 L280.7 580.1 L282.0 576.4 L283.4 572.1 L284.7 570.3 L286.1 570.9 L287.4 570.6 L288.7 571.4 L290.1 570.5 L291.4 570.7 L292.7 570.2 L294.0 569.8 L295.4 570.9 L296.7 570.9 L297.8 573.6 L299.0 575.0 L300.1 576.9 L301.7 573.8 L303.3 570.7 L304.6 568.2 L306.0 565.2 L307.3 565.4 L308.7 564.9 L310.0 564.0 L311.1 562.8 L312.2 562.3 L313.4 561.7 L314.5 561.5 L315.4 560.7 L317.2 578.0 L318.2 589.7 L319.6 588.9 L320.9 588.4 L322.2 587.9 L323.6 587.1 L324.7 585.3 L325.9 583.7 L327.0 581.6 L328.1 580.7 L329.2 584.6 L330.4 587.2 L331.5 590.0 L332.6 593.2 L333.8 593.8 L334.9 594.6 L336.1 596.0 L337.3 596.2 L338.5 596.4 L339.6 596.3 L340.8 597.8 L342.0 597.0 L343.2 595.5 L344.4 595.0 L345.6 593.6 L346.8 594.3 L348.0 592.6 L349.3 592.7 L350.6 592.1 L351.8 591.1 L353.1 591.4 L354.4 591.3 L355.6 592.4 L356.7 592.5 L357.9 593.6 L359.0 595.3 L360.2 596.6 L361.3 596.7 L362.5 597.7 L363.7 597.4 L365.0 597.2 L366.2 596.3 L367.6 596.8 L368.9 597.5 L370.2 598.1 L371.6 599.2 L372.8 599.7 L374.0 599.8 L375.2 600.4 L376.4 600.0 L377.6 599.9 L378.8 599.9 L380.0 601.1 L381.2 602.1 L382.4 603.1 L383.6 605.0 L384.9 606.7 L386.1 608.0 L387.3 609.3 L388.5 610.4 L389.7 611.4 L390.8 609.6 L391.9 607.7 L393.1 605.7 L394.2 604.0 L395.3 603.5 L396.4 603.8 L397.5 604.0 L398.6 603.8 L399.8 604.2 L400.9 604.0 L402.0 604.0 L403.1 604.1 L404.2 603.6 L405.3 605.2 L406.4 607.9 L407.6 610.0 L408.7 612.4 L409.8 612.8 L411.0 613.3 L412.1 613.6 L413.2 613.3 L414.4 614.0 L415.5 614.2 L416.7 614.4 L417.8 615.0 L419.1 612.9 L420.5 610.6 L421.6 610.8 L422.8 610.1 L423.9 610.1 L425.1 609.6 L426.2 609.9 L427.3 610.2 L428.5 609.9 L429.6 610.0 L430.8 610.0 L431.9 610.2 L433.1 609.7 L434.2 609.5 L435.4 609.4 L436.5 610.0 L437.7 609.7 L438.9 611.0 L440.1 612.2 L441.3 613.4 L442.5 614.7 L443.7 615.9 L444.9 615.5 L446.2 614.9 L447.4 614.6 L448.7 614.7 L449.9 614.2 L451.1 614.6 L452.4 615.0 L453.6 615.5 L454.9 615.9 L456.1 615.2 L457.4 614.7 L458.6 614.1 L459.8 612.1 L461.0 610.3 L462.2 608.4 L463.4 606.5 L464.6 605.2 L465.8 603.1 L467.1 602.9 L468.5 602.8 L469.9 602.7 L471.2 602.9 L472.3 602.8 L473.5 602.1 L474.6 601.6 L475.8 600.9 L476.9 600.5 L478.0 600.4 L479.2 599.7 L480.3 599.2 L481.6 595.5 L482.8 592.3 L484.1 589.0 L485.3 586.7 L486.6 583.4 L487.7 582.9 L488.8 583.2 L489.9 582.2 L491.0 582.2 L492.1 581.6 L493.4 578.6 L494.6 575.9 L495.9 573.7 L497.1 572.2 L498.4 569.9 L499.6 569.2 L500.8 569.8 L502.0 569.2 L503.2 570.5 L504.5 572.0 L505.7 573.8 L506.8 573.5 L507.9 574.2 L509.1 574.7 L510.2 576.1 L511.3 577.7 L512.4 578.9 L513.5 578.2 L514.6 577.8 L515.8 578.6 L516.9 579.0 L518.0 580.3 L519.2 579.1 L520.3 577.0 L521.5 576.0 L522.6 574.5 L523.8 572.0 L525.0 570.7 L526.1 569.4 L527.3 568.2 L528.5 567.2 L529.6 566.0 L530.8 565.2 L532.0 563.9 L533.1 562.6 L534.3 562.8 L535.4 561.6 L536.6 560.3 L537.8 558.8 L538.9 558.5 L540.1 558.6 L541.2 556.9 L542.4 557.3 L543.6 556.1 L544.7 555.8 L545.9 554.9 L547.1 551.8 L548.3 549.3 L549.6 545.3 L550.8 543.2 L552.0 538.9 L553.1 541.2 L554.2 545.1 L555.4 547.3 L556.5 550.8 L557.7 551.5 L558.8 552.1 L560.0 550.6 L561.1 551.6 L562.3 552.9 L563.5 553.0 L564.6 552.3 L565.8 552.1 L566.9 552.7 L568.1 552.9 L569.2 554.0 L570.4 555.0 L571.5 555.8 L572.7 557.4 L573.8 557.5 L575.0 555.5 L576.2 555.5 L577.3 553.4 L578.5 552.3 L579.7 551.4 L580.9 550.1 L582.0 548.5 L583.2 547.7 L584.4 547.2 L585.6 545.8 L586.8 544.5 L587.9 544.1 L589.1 543.0 L590.3 541.8 L591.5 540.7 L592.6 537.6 L593.8 536.5 L595.0 536.2 L596.3 539.2 L597.7 542.6 L599.0 544.5 L600.4 553.7 L601.7 562.9 L603.0 563.1 L604.3 563.5 L605.7 564.1 L607.0 563.9 L608.3 564.1 L608.6 564.0 L609.7 561.5 L610.9 558.9 L612.0 555.1 L613.1 555.1 L614.2 554.4 L615.3 553.2 L616.4 552.7 L617.5 551.1 L618.6 550.8 L619.7 549.2 L620.9 548.9 L622.0 547.2 L623.2 546.2 L624.3 545.4 L625.5 545.0 L626.6 542.9 L627.8 541.5 L629.0 541.9 L630.2 540.3 L631.4 540.3 L631.9 520.2 L634.0 530.9 L635.2 530.1 L636.4 532.1 L637.5 532.2 L638.7 532.3 L639.9 533.9 L641.0 534.8 L642.2 536.9 L643.3 535.5 L644.4 534.6 L645.5 534.8 L646.7 536.0 L647.8 535.1 L649.1 536.4 L650.5 537.5 L651.8 537.5 L653.1 538.9 L654.2 538.5 L655.3 537.9 L656.5 539.2 L657.6 539.5 L658.7 539.2 L659.8 538.8 L661.1 540.0 L662.5 544.0 L663.8 546.9 L664.9 546.0 L666.0 546.9 L667.1 546.4 L668.2 547.3 L669.3 547.9 L670.4 548.3 L671.7 548.1 L673.0 547.7 L674.4 546.5 L675.7 546.8 L677.0 547.7 L678.4 549.2 L679.7 550.9 L680.8 552.3 L681.9 554.1 L683.0 552.8 L684.2 554.8 L685.3 555.8 L686.4 557.3 L687.7 557.5 L689.0 555.3 L690.4 555.4 L691.7 554.8 L693.0 556.0 L694.4 555.7 L695.7 556.6 L697.0 557.5 L698.1 556.1 L699.3 554.4 L700.4 552.2 L701.6 552.0 L702.7 551.4 L703.9 549.7 L705.0 548.0 L706.3 547.5 L707.6 547.3 L708.9 546.4 L710.2 547.8 L711.6 550.2 L712.9 550.4 L714.3 552.1 L715.4 550.6 L716.5 550.9 L717.6 550.8 L718.7 550.5 L719.8 550.4 L720.9 551.1 L722.2 546.2 L723.6 541.1 L724.9 536.7 L726.2 533.5 L727.5 528.5 L728.9 526.2 L730.2 522.8 L731.5 520.1 L732.9 514.4 L734.2 510.3 L735.5 506.7 L736.8 503.9 L738.1 500.6 L739.5 498.6 L740.8 496.3 L742.4 499.8 L744.0 504.9 L745.3 504.5 L746.7 502.5 L748.0 500.5 L749.3 497.2 L750.7 496.1 L752.0 494.7 L753.3 495.4 L754.6 495.2 L755.9 496.6 L757.2 494.5 L758.6 493.5 L759.9 493.9 L761.2 491.8 L762.6 487.5 L763.9 483.4 L765.2 469.6 L766.6 459.5 L767.9 419.7 L769.8 386.0 L771.9 388.6 L774.0 411.5 L775.9 396.1 L777.7 410.8 L779.9 394.7 L782.0 409.0 L783.3 404.9 L784.6 399.8 L786.0 405.3 L787.3 403.7 L788.6 409.7 L790.0 417.5 L791.3 423.9 L792.6 430.8 L794.5 446.5 L796.3 430.4 L797.4 424.6 L798.5 419.2 L800.6 429.8 L802.2 439.2 L803.8 444.0 L805.1 446.3 L806.4 446.7 L807.8 452.9 L809.1 457.3 L810.4 451.2 L811.7 444.9 L813.0 441.6 L814.4 435.7 L815.8 435.8 L817.1 439.4 L818.4 441.2 L819.7 445.1 L821.3 437.5 L822.9 431.3 L824.2 428.6 L825.6 428.2 L826.9 424.9 L828.2 421.1 L829.4 418.1 L830.5 415.3 L831.7 412.1 L833.0 420.4 L834.3 423.3 L835.6 420.6 L837.0 414.5 L838.3 409.4 L839.6 406.0 L841.0 396.2 L842.3 386.1 L844.2 359.4 L846.3 366.4 L848.4 354.8 L849.8 354.9 L851.1 352.1 L852.4 348.3 L853.7 352.8 L855.6 366.3 L857.4 392.5 L859.0 422.9 L860.1 416.0 L861.2 409.0 L862.5 405.8 L863.8 403.4 L865.1 405.4 L866.5 410.3 L867.8 407.4 L869.1 403.6 L870.3 415.4 L871.5 427.2 L872.9 429.7 L874.2 431.4 L876.0 419.7 L877.1 427.7 L878.2 438.0 L879.5 451.5 L880.8 464.5 L882.1 475.1 L883.5 481.0 L884.8 473.0 L886.1 464.7 L887.5 462.6 L888.8 457.5 L890.1 463.4 L891.4 467.2 L892.8 470.5 L894.1 475.6 L895.5 479.7 L896.8 484.4 L898.1 481.0 L899.4 480.4 L900.7 481.6 L902.1 482.6 L903.4 484.7 L904.7 490.7 L906.1 493.8 L907.4 494.1 L908.7 490.4 L910.1 486.3 L911.4 482.1 L912.5 481.0 L913.7 477.7 L914.8 475.4 L916.1 477.6 L917.5 480.7 L919.1 484.7 L920.7 486.4 L922.0 484.7 L923.4 484.4 L924.7 484.5 L926.0 484.8 L927.3 484.3 L928.6 483.8 L930.0 485.8 L931.3 486.4 L932.6 490.6 L933.9 493.4 L935.1 495.9 L936.3 496.2 L937.5 499.0 L938.7 501.0 L940.0 504.5 L941.3 509.5 L942.6 513.8 L943.8 513.3 L944.9 512.5 L946.1 511.8 L947.2 513.4 L948.4 515.2 L949.7 513.8 L950.9 510.3 L952.2 510.4 L953.5 510.2 L954.7 510.3 L955.9 518.6 L957.1 524.5 L958.5 523.8 L960.0 522.2 L961.5 513.1 L962.9 504.9 L964.8 494.2 L966.1 493.5 L967.3 492.6 L968.6 492.5 L970.0 495.0 L971.5 494.7 L973.0 499.6 L974.4 503.1 L975.6 498.3 L976.8 496.1 L978.0 500.0 L979.3 502.9 L980.6 507.2 L981.8 509.6 L983.1 512.9 L984.5 518.4 L986.0 524.0 L987.5 522.8 L988.9 518.5 L990.2 519.8 L991.5 519.6 L992.8 520.5 L994.2 524.3 L995.7 529.1 L997.2 525.4 L998.6 521.0 L1000.0 517.5 L1001.5 514.7 L1003.0 518.4 L1004.4 520.4 L1005.7 523.2 L1007.0 524.5 L1008.3 527.3 L1009.5 529.3 L1010.7 531.7 L1011.9 533.0 L1013.1 533.8 L1014.5 530.4 L1016.0 526.1 L1017.6 522.3 L1019.3 518.0 L1020.5 522.1 L1021.6 524.6 L1022.8 528.4 L1024.1 528.0 L1025.3 526.1 L1026.6 526.2 L1028.0 521.5 L1029.5 514.7 L1031.4 501.2 L1033.4 488.5 L1035.3 492.9 L1037.2 506.7 L1038.7 507.4 L1040.1 507.9 L1041.5 509.8 L1043.0 511.3 L1045.0 499.3 L1046.9 509.1 L1048.2 509.5 L1049.5 509.3 L1050.8 507.0 L1052.1 505.8 L1053.3 505.8 L1054.6 505.4 L1056.0 508.9 L1057.5 514.6 L1058.8 511.9 L1060.1 511.0 L1061.4 509.3 L1062.8 508.2 L1064.3 506.7 L1065.8 514.9 L1067.2 523.3 L1069.1 512.4 L1071.1 493.5 L1072.3 460.3 L1073.5 428.4 L1075.0 404.2 L1076.4 384.1 L1077.7 373.3 L1079.0 368.2 L1080.3 357.9 L1081.5 346.8 L1082.8 331.6 L1083.6 302.8 L1084.2 261.6 L1086.1 263.2 L1088.0 272.2 L1090.0 237.5 L1091.9 201.3 L1093.8 198.3 L1095.7 190.4 L1097.7 190.4 L1098.6 208.9 L1100.6 251.7 L1102.5 254.1 L1103.5 262.9 L1105.4 262.7 L1106.8 296.9 L1108.3 315.8 L1108.3 369.0 L1109.8 352.7 L1111.2 331.9 L1112.7 340.4 L1114.1 351.3 L1115.5 364.4 L1117.0 374.4 L1118.5 363.8 L1119.9 358.6 L1121.4 277.6 L1122.8 278.3 L1124.3 279.4 L1125.7 277.8 L1126.7 316.2 L1127.6 339.3 L1129.0 333.7 L1130.5 329.8 L1132.5 282.9 L1134.1 284.4 L1135.7 282.5 L1137.3 319.2 L1139.2 332.2 L1140.5 334.8 L1141.8 332.7 L1143.1 335.3 L1144.5 345.2 L1146.0 347.8 L1147.5 362.7 L1148.9 377.0 L1150.8 412.2 L1152.2 418.6 L1153.7 428.1 L1155.2 416.1 L1156.6 397.9 L1158.0 389.0 L1159.5 377.7 L1161.4 390.9 L1162.7 391.0 L1164.0 391.6 L1165.3 394.5 L1166.8 398.2 L1168.2 401.0 L1170.1 428.5 L1172.1 449.6 L1173.6 377.5 L1174.0 293.6 L1175.9 293.0 L1176.9 338.6 L1178.3 368.2 L1179.5 391.2 L1180.8 412.7 L1182.1 432.3 L1183.3 425.9 L1184.6 416.4 L1186.6 409.9 L1187.8 414.7 L1189.1 427.7 L1190.2 423.6 L1191.4 417.1 L1192.6 417.0 L1193.8 415.6 L1195.0 410.8 L1196.2 407.5 L1197.7 413.1 L1199.1 422.5 L1200.4 428.3 L1201.7 432.9 L1203.0 437.8 L1204.9 431.7 L1206.3 452.0 L1207.8 473.0 L1209.2 458.2 L1210.7 443.9 L1212.7 440.6 L1213.8 444.4 L1215.0 446.6 L1216.1 451.4 L1217.2 447.3 L1218.3 444.0 L1219.4 439.6 L1220.8 424.4 L1222.3 412.5 L1223.6 415.2 L1224.9 418.1 L1226.2 416.7 L1227.7 423.7 L1229.1 428.6 L1230.5 424.5 L1232.0 418.1 L1233.5 423.2 L1234.9 427.8 L1236.8 374.5 L1238.7 376.5 L1240.0 392.1 L1241.4 401.3 L1242.7 419.0 L1244.0 417.4 L1245.3 413.4 L1247.4 402.0 L1249.0 410.9 L1250.6 419.1 L1251.9 415.3 L1253.3 413.3 L1254.9 420.4 L1256.5 430.7 L1257.8 432.7 L1259.1 432.6 L1260.2 439.8 L1261.3 448.0 L1262.8 434.6 L1264.4 422.7 L1266.6 437.9 L1267.9 446.9 L1269.2 456.6 L1270.5 460.6 L1271.9 467.6 L1273.2 472.3 L1274.4 479.2 L1275.5 484.8 L1276.7 490.6 L1278.0 483.9 L1279.3 474.9 L1280.9 478.7 L1282.5 482.6 L1283.8 483.4 L1285.2 484.1 L1287.3 468.2 L1288.7 470.7 L1290.0 472.0 L1291.5 458.3 L1293.1 448.3 L1294.4 438.9 L1295.8 427.5 L1297.4 416.6 L1299.0 408.6 L1300.1 400.9 L1301.3 392.4 L1302.4 383.5 L1303.8 393.7 L1305.1 404.6 L1306.4 408.7 L1307.8 409.5 L1309.1 411.8 L1310.4 418.5 L1311.8 426.5 L1313.1 433.1 L1314.4 430.5 L1315.8 431.2 L1317.1 429.7 L1319.2 407.1 L1320.8 403.1 L1322.4 403.3 L1324.5 380.0 L1325.8 376.7 L1327.1 372.3 L1328.4 377.5 L1329.8 387.4 L1331.2 385.6 L1332.5 382.9 L1334.3 400.9 L1335.6 406.2 L1337.0 410.0 L1338.3 411.9 L1339.7 414.2 L1341.0 418.0 L1342.3 414.4 L1343.7 415.0 L1345.0 413.0 L1346.3 422.8 L1347.6 428.4 L1348.9 426.4 L1350.3 427.6 L1351.6 426.1 L1352.9 432.1 L1354.3 434.3 L1355.6 429.1 L1356.9 422.8 L1358.2 417.1 L1359.5 423.2 L1360.9 431.7 L1362.2 433.8 L1363.5 429.7 L1364.9 427.4 L1366.2 423.3 L1367.4 418.7 L1368.5 416.1 L1369.7 414.5 L1371.3 420.6 L1372.9 421.6 L1374.2 425.5 L1375.5 427.9 L1377.6 465.1 L1378.9 458.6 L1380.3 447.8 L1381.6 455.2 L1382.9 464.2 L1384.1 463.6 L1385.2 464.2 L1386.3 468.1 L1387.5 465.4 L1388.8 463.3 L1390.1 458.9 L1391.4 457.9 L1392.7 465.3 L1394.1 469.2 L1395.4 475.5 L1396.8 477.8 L1398.1 479.3 L1400.0 495.0 L1401.1 487.9 L1402.3 481.0 L1403.4 474.8 L1404.8 480.8 L1406.1 485.6 L1407.4 494.2 L1408.7 498.6 L1410.0 504.1 L1411.3 510.0 L1412.7 516.5 L1414.0 523.6 L1415.3 523.6 L1416.7 526.1 L1418.0 526.7 L1419.3 525.8 L1420.7 524.9 L1422.0 524.0" fill="none" stroke="#3f79e8" stroke-width="4.4" stroke-linejoin="round" stroke-linecap="round"/></g>
<rect x="124" y="648.0" width="1299" height="2" fill="#3e3f42"/>
<rect x="287" y="648.8" width="2" height="9.5" fill="#f4f4f4"/>
<rect x="454.5" y="648.8" width="2" height="9.5" fill="#f4f4f4"/>
<rect x="619" y="648.8" width="2" height="9.5" fill="#f4f4f4"/>
<rect x="786" y="648.8" width="2" height="9.5" fill="#f4f4f4"/>
<rect x="951" y="648.8" width="2" height="9.5" fill="#f4f4f4"/>
<path d="M1422 147 V647.3" stroke="#e6e6e6" stroke-width="2" stroke-dasharray="8 4" />
<rect x="1420.5" y="155" width="3" height="4" fill="#151618"/>
<rect x="1421" y="166.5" width="2" height="5" fill="#b030e0"/>
<rect x="1420.5" y="179" width="3" height="4" fill="#151618"/>
<rect x="1420.5" y="191" width="3" height="4" fill="#151618"/>
<rect x="1421" y="202.5" width="2" height="5" fill="#b030e0"/>
<rect x="1420.5" y="215" width="3" height="4" fill="#151618"/>
<rect x="1421" y="226.5" width="2" height="5" fill="#b030e0"/>
<rect x="1420.5" y="239" width="3" height="4" fill="#151618"/>
<rect x="1420.5" y="251" width="3" height="4" fill="#151618"/>
<rect x="1421" y="262.5" width="2" height="5" fill="#b030e0"/>
<rect x="1420.5" y="275" width="3" height="4" fill="#151618"/>
<rect x="1421" y="286.5" width="2" height="5" fill="#b030e0"/>
<rect x="1420.5" y="299" width="3" height="4" fill="#151618"/>
<rect x="1420.5" y="311" width="3" height="4" fill="#151618"/>
<rect x="1421" y="322.5" width="2" height="5" fill="#b030e0"/>
<rect x="1420.5" y="335" width="3" height="4" fill="#151618"/>
<rect x="1421" y="346.5" width="2" height="5" fill="#b030e0"/>
<rect x="1420.5" y="359" width="3" height="4" fill="#151618"/>
<rect x="1420.5" y="371" width="3" height="4" fill="#151618"/>
<rect x="1421" y="382.5" width="2" height="5" fill="#b030e0"/>
<rect x="1420.5" y="395" width="3" height="4" fill="#151618"/>
<rect x="1421" y="406.5" width="2" height="5" fill="#b030e0"/>
<rect x="1420.5" y="419" width="3" height="4" fill="#151618"/>
<rect x="1420.5" y="431" width="3" height="4" fill="#151618"/>
<rect x="1421" y="442.5" width="2" height="5" fill="#b030e0"/>
<rect x="1420.5" y="455" width="3" height="4" fill="#151618"/>
<rect x="1421" y="466.5" width="2" height="5" fill="#b030e0"/>
<rect x="1420.5" y="479" width="3" height="4" fill="#151618"/>
<rect x="1420.5" y="491" width="3" height="4" fill="#151618"/>
<rect x="1421" y="502.5" width="2" height="5" fill="#b030e0"/>
<rect x="1420.5" y="515" width="3" height="4" fill="#151618"/>
<rect x="1421" y="526.5" width="2" height="5" fill="#b030e0"/>
<rect x="1420.5" y="539" width="3" height="4" fill="#151618"/>
<rect x="1420.5" y="551" width="3" height="4" fill="#151618"/>
<rect x="1421" y="562.5" width="2" height="5" fill="#b030e0"/>
<rect x="1420.5" y="575" width="3" height="4" fill="#151618"/>
<rect x="1421" y="586.5" width="2" height="5" fill="#b030e0"/>
<rect x="1420.5" y="599" width="3" height="4" fill="#151618"/>
<rect x="1420.5" y="611" width="3" height="4" fill="#151618"/>
<rect x="1421" y="622.5" width="2" height="5" fill="#b030e0"/>
<rect x="1420.5" y="635" width="3" height="4" fill="#151618"/>
<rect x="1421" y="139" width="2" height="8" fill="#b030e0"/>
<text x="108" y="656.0" text-anchor="end" class="yl">$0</text>
<text x="1439" y="655.9" class="yr">0</text>
<text x="108" y="592.5" text-anchor="end" class="yl">$100m</text>
<text x="1439" y="592.4" class="yr">20,000</text>
<text x="108" y="529.0" text-anchor="end" class="yl">$200m</text>
<text x="1439" y="528.9" class="yr">40,000</text>
<text x="108" y="465.5" text-anchor="end" class="yl">$300m</text>
<text x="1439" y="465.4" class="yr">60,000</text>
<text x="108" y="402.0" text-anchor="end" class="yl">$400m</text>
<text x="1439" y="401.9" class="yr">80,000</text>
<text x="108" y="338.6" text-anchor="end" class="yl">$500m</text>
<text x="1439" y="338.5" class="yr">100,000</text>
<text x="108" y="275.1" text-anchor="end" class="yl">$600m</text>
<text x="1439" y="275.0" class="yr">120,000</text>
<text x="108" y="211.6" text-anchor="end" class="yl">$700m</text>
<text x="1439" y="211.5" class="yr">140,000</text>
<text x="108" y="148.1" text-anchor="end" class="yl">$800m</text>
<text x="1439" y="148.0" class="yr">160,000</text>
<text x="288" y="684.3" text-anchor="middle" class="xl">Jul</text>
<text x="455.5" y="684.3" text-anchor="middle" class="xl b">2023</text>
<text x="620" y="684.3" text-anchor="middle" class="xl">Jul</text>
<text x="787" y="684.3" text-anchor="middle" class="xl b">2024</text>
<text x="952" y="684.3" text-anchor="middle" class="xl">Jul</text>
<path d="M35 733.5 V724 a4 4 0 0 1 4 -4 H1532 a4 4 0 0 1 4 4 V733.5Z" fill="#454649"/>
<rect x="36" y="734" width="1498" height="58" fill="#111214"/>
<path d="M36 792 L35.4 782.6 L54.7 780.9 L61.5 778.5 L73.8 778.1 L81.4 776.8 L87.6 775.8 L93.7 776.5 L99.8 775.3 L107.5 773.4 L113.6 771.7 L119.8 766.5 L123.4 765.6 L127.4 766.5 L132.1 769.5 L136.7 770.7 L140.6 771.9 L145.8 770.5 L155.0 771.3 L161.2 772.5 L166.3 771.7 L171.3 774.1 L175.6 775.2 L181.1 775.4 L188.7 776.3 L196.5 775.5 L204.1 776.2 L211.8 776.9 L219.5 776.3 L228.7 776.2 L234.8 776.2 L242.4 776.2 L250.2 775.6 L256.4 775.3 L259.6 777.8 L271.1 777.0 L285.7 778.4 L301.4 777.9 L315.0 778.3 L329.6 778.6 L347.4 779.0 L364.1 779.7 L377.7 779.5 L397.6 779.4 L411.7 779.8 L421.7 779.8 L436.3 778.9 L454.1 777.2 L467.7 776.1 L476.1 776.4 L501.0 775.9 L522.5 774.8 L534.8 774.5 L554.7 775.0 L579.2 773.2 L586.9 775.5 L594.9 775.6 L606.5 774.5 L621.2 773.6 L624.2 772.8 L640.2 773.1 L654.0 773.5 L666.3 774.2 L677.0 774.5 L690.8 774.8 L706.2 774.2 L716.9 774.6 L729.2 773.2 L741.4 770.8 L751.2 770.6 L760.5 769.7 L769.6 769.7 L777.3 766.8 L781.0 760.6 L785.9 762.7 L790.1 762.6 L795.1 762.5 L801.2 762.1 L807.3 764.3 L811.6 764.3 L816.6 764.3 L823.3 765.6 L829.4 765.5 L835.6 765.1 L842.3 764.4 L848.4 763.5 L855.5 763.7 L861.6 762.2 L866.9 758.2 L871.8 757.9 L877.9 757.8 L882.2 761.2 L886.5 762.5 L892.7 762.6 L898.4 764.1 L903.6 763.4 L909.2 767.2 L915.3 767.2 L921.4 767.4 L927.6 768.9 L935.3 768.9 L944.5 768.7 L951.5 768.6 L959.9 768.9 L966.0 769.0 L976.0 770.3 L987.2 771.5 L994.5 771.0 L1000.6 772.1 L1006.1 769.7 L1013.9 769.7 L1020.0 769.9 L1027.3 771.3 L1034.0 771.7 L1041.8 772.6 L1048.5 771.4 L1056.4 772.5 L1065.3 772.4 L1073.1 772.6 L1080.8 771.4 L1085.4 769.2 L1089.7 770.8 L1096.4 771.2 L1100.9 770.9 L1109.8 770.6 L1117.7 770.9 L1124.4 772.2 L1128.9 769.6 L1135.0 760.4 L1142.4 756.0 L1144.0 750.1 L1148.4 751.0 L1152.9 745.0 L1157.3 744.1 L1160.6 745.6 L1165.1 749.4 L1168.5 750.0 L1171.8 754.6 L1175.2 756.0 L1181.9 759.6 L1186.9 751.4 L1193.1 754.6 L1197.5 755.8 L1203.5 751.7 L1207.5 756.0 L1215.4 757.3 L1220.9 762.8 L1227.6 761.5 L1233.1 761.0 L1241.0 761.8 L1245.5 765.9 L1247.7 752.7 L1251.0 756.6 L1255.5 762.8 L1259.9 763.1 L1265.1 764.1 L1273.3 762.3 L1281.2 764.9 L1286.7 767.9 L1292.4 765.2 L1300.1 765.1 L1307.9 763.1 L1314.6 763.3 L1320.2 759.5 L1327.0 763.3 L1332.4 761.9 L1339.2 762.9 L1345.9 764.5 L1352.0 763.7 L1357.6 766.5 L1366.2 769.4 L1372.9 768.7 L1378.5 767.5 L1385.2 765.8 L1392.0 762.5 L1399.0 762.1 L1408.3 764.6 L1415.3 762.3 L1421.4 760.0 L1427.6 760.7 L1432.7 761.8 L1440.5 763.2 L1448.1 764.1 L1455.8 764.6 L1465.0 764.6 L1473.6 763.0 L1480.3 764.0 L1485.9 765.7 L1494.2 767.3 L1503.3 768.1 L1508.6 769.7 L1515.6 769.0 L1524.8 772.2 L1534.0 772.2 L1534 792 Z" fill="#0b0c0d"/>
<rect x="35.2" y="733.2" width="1499.6" height="58.8" fill="none" stroke="#9a9a9c" stroke-width="1.6"/>
<rect x="35" y="732.6" width="2" height="60.2" fill="#f0f0f0"/><rect x="1533" y="732.6" width="2" height="60.2" fill="#f0f0f0"/>
<rect x="30.5" y="744.5" width="12" height="37" rx="3.5" fill="#151618" stroke="#f2f2f2" stroke-width="1.8"/>
<rect x="1528.5" y="744.5" width="12" height="37" rx="3.5" fill="#151618" stroke="#f2f2f2" stroke-width="1.8"/>
<g fill="#f4f4f4"><rect x="781.3" y="724" width="1.6" height="6"/><rect x="784.7" y="724" width="1.6" height="6"/><rect x="788.1" y="724" width="1.6" height="6"/></g>
</svg>
<!-- toolbar -->
<div class="abs" style="left:18.8px;top:25.6px;width:232.4px;height:64.4px;border-radius:11px;background:#fff"></div>
<div class="abs" style="left:20.8px;top:27.6px;width:228.4px;height:60.4px;border-radius:9px;background:#3765c4"></div>
<div class="abs" style="left:25px;top:31.8px;width:220px;height:52px;border-radius:5.5px;background:#202636"></div>
<div class="t" style="left:39.3px;top:44px;font-size:28px;color:#fff">Add Metrics</div>
<svg class="abs" style="left:207px;top:48px" width="20" height="20" viewBox="0 0 20 20"><path d="M10 1.2V18.8M1.2 10H18.8" stroke="#fff" stroke-width="2.1" fill="none"/></svg>

<div class="pill" style="left:265px;width:120px"></div>
<div class="t" style="left:285.7px;top:46.9px;font-size:23.3px;color:#fff">TVL</div>
<svg class="abs" style="left:342px;top:49px" width="18" height="18" viewBox="0 0 18 18"><path d="M1.5 1.5L16.5 16.5M16.5 1.5L1.5 16.5" stroke="#fff" stroke-width="2.4" fill="none"/></svg>
<div class="pill" style="left:401px;width:260px;border-color:#c034e2"></div>
<div class="t" style="left:421.2px;top:46.5px;font-size:24px;color:#fff">Active Addresses</div>
<svg class="abs" style="left:618px;top:49px" width="18" height="18" viewBox="0 0 18 18"><path d="M1.5 1.5L16.5 16.5M16.5 1.5L1.5 16.5" stroke="#fff" stroke-width="2.4" fill="none"/></svg>

<div class="btn" style="left:692px;width:184px"></div>
<div class="t" style="left:710.3px;top:43.7px;font-size:27.8px;color:#6a9ae4">USD</div>
<div class="t" style="left:800.2px;top:43.7px;font-size:27.8px">ADA</div>
<div class="btn" style="left:892px;width:223px"></div>
<div class="t" style="left:909.8px;top:43.7px;font-size:27.6px;color:#6a9ae4">D</div>
<div class="t" style="left:962.3px;top:43.7px;font-size:27.4px">W</div>
<div class="t" style="left:1020.6px;top:43.7px;font-size:27.4px">M</div>
<div class="t" style="left:1076.3px;top:43.7px;font-size:27.4px">C</div>
<div class="btn" style="left:1131.5px;width:59.5px"></div>
<svg class="abs" style="left:1148px;top:48px" width="26" height="20" viewBox="0 0 26 20"><path d="M9.2 3.5L3 10L9.2 16.5M16.8 3.5L23 10L16.8 16.5" stroke="#c4c4c6" stroke-width="2" fill="none"/></svg>
<div class="btn" style="left:1207.5px;width:109.5px"></div>
<div class="btn" style="left:1332.6px;width:115px"></div>
<div class="btn" style="left:1463.6px;width:60.6px"></div>
<svg class="abs" style="left:1226.6px;top:46.6px" width="20.6" height="23" viewBox="0 0 21 25" preserveAspectRatio="none"><path d="M4.5 1.6H12.5L19 8V20.5a3 3 0 0 1-3 3H4.5a3 3 0 0 1-3-3V4.6a3 3 0 0 1 3-3Z" fill="none" stroke="#c4c4c6" stroke-width="2.4" stroke-linejoin="round"/><path d="M12.5 1.6V5a3 3 0 0 0 3 3H19" fill="none" stroke="#c4c4c6" stroke-width="2"/><path d="M10.2 9.5V16M6.3 14.2L10.2 18.6L14.1 14.2Z" fill="#c4c4c6" stroke="#c4c4c6" stroke-width="2.4" stroke-linejoin="round"/></svg>
<svg class="abs" style="left:1353.4px;top:46.6px" width="20.6" height="23" viewBox="0 0 21 25" preserveAspectRatio="none"><path d="M4.5 1.6H12.5L19 8V20.5a3 3 0 0 1-3 3H4.5a3 3 0 0 1-3-3V4.6a3 3 0 0 1 3-3Z" fill="none" stroke="#c4c4c6" stroke-width="2.4" stroke-linejoin="round"/><path d="M12.5 1.6V5a3 3 0 0 0 3 3H19" fill="none" stroke="#c4c4c6" stroke-width="2"/><path d="M10.2 9.5V16M6.3 14.2L10.2 18.6L14.1 14.2Z" fill="#c4c4c6" stroke="#c4c4c6" stroke-width="2.4" stroke-linejoin="round"/></svg>
<div class="t" style="left:1256.3px;top:47.1px;font-size:23.5px">.csv</div>
<div class="t" style="left:1383.5px;top:47.1px;font-size:23.5px">.png</div>
<svg class="abs" style="left:1484px;top:48px" width="20" height="20" viewBox="0 0 20 20"><path d="M10 2V18M2 10H18" stroke="#c4c4c6" stroke-width="1.9" fill="none"/></svg>

<!-- tooltip -->
<div class="tip">
<div class="t" style="left:19.4px;top:29.5px;font-size:28px">29 Nov 2025</div>
<div class="dot" style="left:20px;top:74.2px;background:#3366cc"></div>
<div class="t" style="left:48.5px;top:71.3px;font-size:28px">TVL&nbsp;&nbsp;$184.79m</div>
<div class="dot" style="left:20px;top:115.5px;background:#c026e8"></div>
<div class="t" style="left:48.5px;top:113px;font-size:28px">Active Addresses&nbsp;&nbsp;19,140</div>
</div>
</body></html>
